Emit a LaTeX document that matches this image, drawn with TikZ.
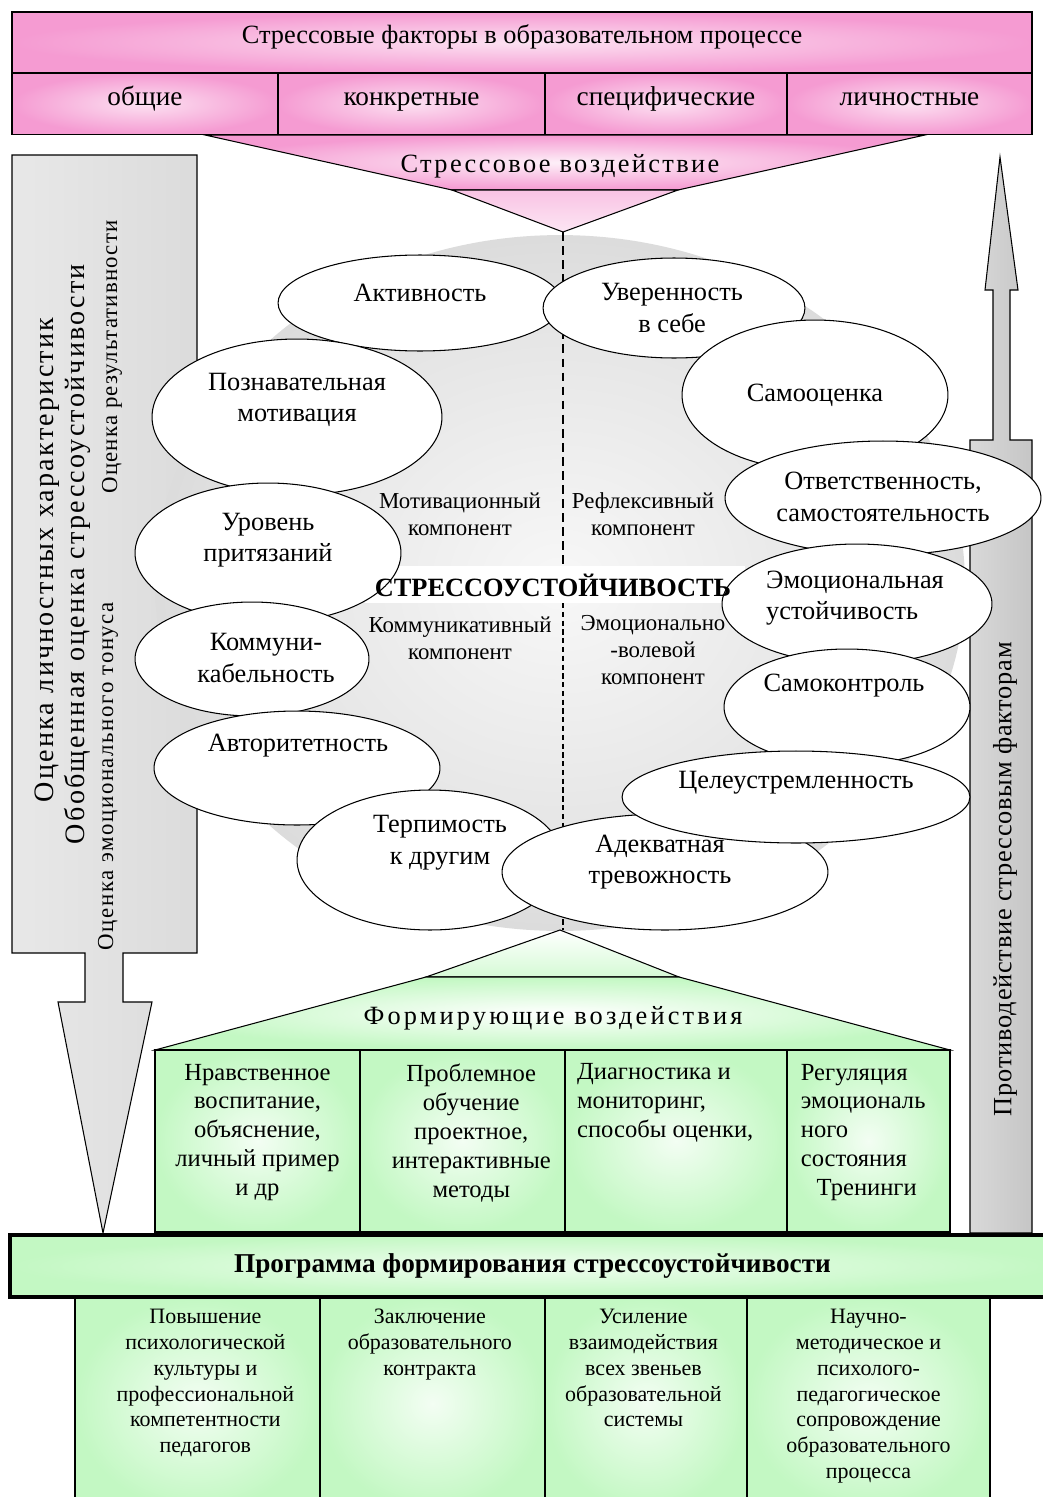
\documentclass[tikz,border=0pt]{standalone}
\usepackage{fontspec}
\setmainfont{Liberation Serif}
\usepackage{tikz}
\usetikzlibrary{shapes.geometric}
\usetikzlibrary{positioning}
\usetikzlibrary{shadings}

\definecolor{rose}{RGB}{245,155,210}
\definecolor{mint}{RGB}{195,248,195}
\pgfdeclareradialshading{blob}{\pgfpoint{0bp}{0bp}}{color(0bp)=(gray!6); color(18bp)=(gray!20); color(50bp)=(gray!55)}

\tikzset{
    cell/.style={draw, line width=0.6pt, inner sep=0pt},
    pinkcell/.style={cell, inner color=rose!30!white, outer color=rose, minimum height=61*0.02cm, text height=8pt, text depth=6.4pt, font=\fontsize{15.5}{18}\selectfont},
    greencell/.style={cell, inner color=mint!20!white, outer color=mint},
    bub/.style 2 args={ellipse, draw, line width=0.6pt, fill=white, inner sep=0pt, minimum width=#1*0.04cm, minimum height=#2*0.04cm},
    txt/.style={font=\fontsize{15}{18}\selectfont, align=center, inner sep=0pt},
    comp/.style={font=\fontsize{13}{15.5}\selectfont, align=center, inner sep=0pt},
    gtxt/.style={font=\fontsize{14}{16.5}\selectfont, inner sep=0pt},
    btxt/.style={font=\fontsize{12.5}{14.7}\selectfont, align=center, inner sep=0pt},
}

\begin{document}
\begin{tikzpicture}[x=0.02cm, y=-0.02cm]
    \useasboundingbox (0,0) rectangle (1043,1497);
    \fill[white] (0,0) rectangle (1043,1497);

    % side columns
    \shadedraw[line width=0.6pt, left color=gray!18, middle color=white, right color=gray!28] (12,155) -- (197,155) -- (197,953) -- (123,953) -- (123,1002) -- (152,1002) -- (103,1233) -- (58,1002) -- (85,1002) -- (85,953) -- (12,953) -- cycle;
    \shadedraw[line width=0.6pt, left color=gray!30, middle color=white, right color=gray!45] (970,1233) -- (970,440) -- (993,440) -- (993,290) -- (985,290) -- (1000,157) -- (1018,290) -- (1010,290) -- (1010,440) -- (1032,440) -- (1032,1233) -- cycle;
    \node[font=\fontsize{16}{19}\selectfont\addfontfeature{LetterSpace=8}, rotate=90, inner sep=0pt] (eval1) at (47,560) {Оценка личностных характеристик};
    \node[font=\fontsize{16}{19}\selectfont\addfontfeature{LetterSpace=8}, rotate=90, inner sep=0pt] (eval2) at (77,554) {Обобщенная оценка стрессоустойчивости};
    \node[font=\fontsize{13}{15}\selectfont\addfontfeature{LetterSpace=5}, rotate=90, inner sep=0pt] (eval3) at (112,357) {Оценка результативности};
    \node[font=\fontsize{13}{15}\selectfont\addfontfeature{LetterSpace=7}, rotate=90, inner sep=0pt] (eval4) at (108,776) {Оценка эмоционального тонуса};
    \node[font=\fontsize{15}{18}\selectfont\addfontfeature{LetterSpace=3}, rotate=90, inner sep=0pt] (counter) at (1005,879) {Противодействие стрессовым факторам};

    % stress factors
    \node[pinkcell, minimum width=1020*0.02cm, font=\fontsize{15}{18}\selectfont] (head) at (522,42.5) {Стрессовые факторы в образовательном процессе};
    \foreach \xa/\xb/\lbl [count=\n] in {12/278/общие, 278/545/конкретные, 545/787/специфические, 787/1032/личностные}
        \node[pinkcell, minimum width={(\xb-\xa)*0.02cm}] (kind\n) at ({(\xa+\xb)/2},104) {\lbl};
    \shadedraw[line width=0.6pt, inner color=rose!15!white, outer color=rose] (205,135) -- (925,135) -- (678,190) -- (452,190) -- cycle;
    \shadedraw[line width=0.6pt, top color=rose!60!white, bottom color=rose!25!white] (452,190) -- (678,190) -- (563,232) -- cycle;
    \node[font=\fontsize{15}{18}\selectfont\addfontfeature{LetterSpace=9}, inner sep=0pt] (impact) at (560,166) {Стрессовое воздействие};

    % core
    \shade[shading=blob] (560,583) ellipse [x radius=8.1cm, y radius=6.96cm];
    \draw[line width=1.4pt, dash pattern=on 5pt off 3pt] (563,232) -- (563,566);
    \draw[line width=0.6pt, dash pattern=on 3pt off 2pt] (563,603) -- (563,930);
    \fill[white] (365,566) rectangle (745,603);

    % shaping
    \shadedraw[line width=0.6pt, top color=white, bottom color=mint!70] (560,930) -- (679,977) -- (426,977) -- cycle;
    \shadedraw[line width=0.6pt, inner color=white, outer color=mint] (426,977) -- (679,977) -- (950,1050) -- (155,1050) -- cycle;
    \node[font=\fontsize{15}{18}\selectfont\addfontfeature{LetterSpace=12}, inner sep=0pt] (shape) at (553,1018) {Формирующие воздействия};
    \foreach \xa/\xb [count=\n] in {155/360, 360/565, 565/787, 787/950}
        \node[greencell, minimum width={(\xb-\xa)*0.02cm}, minimum height=182*0.02cm] (g\n) at ({(\xa+\xb)/2},1141) {};
    \node[gtxt, align=center, below=8pt of g1.north] (g1t) {Нравственное\\воспитание,\\объяснение,\\личный пример\\и др};
    \node[gtxt, align=center, below=8pt of g2.north, xshift=5pt] (g2t) {Проблемное\\обучение\\проектное,\\интерактивные\\методы};
    \node[gtxt, align=left, below right=8pt and 7pt of g3.north west] (g3t) {Диагностика и\\мониторинг,\\способы оценки,};
    \node[gtxt, align=left, below right=8pt and 8pt of g4.north west] (g4t) {Регуляция\\эмоциональ\\ного\\состояния\\\hspace*{9pt}Тренинги};

    % qualities
    \node[bub={142}{48}, label={[txt, shift={(0,-10)}]center:Активность}] (act) at (420,303) {};
    \node[bub={131}{50}, label={[txt, shift={(-2,0)}]center:{Уверенность\\в себе}}] (conf) at (674,308) {};
    \node[bub={145}{78}, label={[txt, shift={(0,-17)}]center:{Познавательная\\мотивация}}] (cog) at (297,417) {};
    \node[bub={133}{75}, label={[txt]center:Самооценка}] (selfe) at (815,395) {};
    \node[bub={133}{70}, label={[txt, shift={(0,-13)}]center:{Уровень\\притязаний}}] (aspir) at (268,553) {};
    \node[bub={158}{57}, label={[txt, shift={(0,-1)}]center:{Ответственность,\\самостоятельность}}] (resp) at (883,498) {};
    \node[bub={135}{60}, label={[txt, align=left, shift={(-2,-6)}]center:{Эмоциональная\\устойчивость}}] (emo) at (857,604) {};
    \node[bub={117}{57}, label={[txt, shift={(14,-1)}]center:{Коммуни-\\кабельность}}] (comm) at (252,659) {};
    \node[bub={123}{58}, label={[txt, shift={(-3,-21)}]center:Самоконтроль}] (ctrl) at (847,707) {};
    \node[bub={143}{57}, label={[txt, shift={(1,-22)}]center:Авторитетность}] (auth) at (297,768) {};
    \node[bub={133}{70}, label={[txt, shift={(10,-17)}]center:{Терпимость\\к другим}}] (tol) at (430,860) {};
    \node[bub={163}{58}] (adeq) at (665,872) {};
    \node[bub={174}{46}, label={[txt, shift={(0,-14)}]center:Целеустремленность}] (goal) at (796,797) {};
    \node[txt, shift={(-5,-10)}] (adeqt) at (adeq.center) {Адекватная\\тревожность};

    \node[comp] (motc) at (460,514) {Мотивационный\\компонент};
    \node[comp] (refc) at (643,514) {Рефлексивный\\компонент};
    \node[comp] (comc) at (460,638) {Коммуникативный\\компонент};
    \node[comp] (emoc) at (653,650) {Эмоционально\\-волевой\\компонент};
    \node[font=\bfseries\fontsize{15}{18}\selectfont, inner sep=0pt] (core) at (553,585) {СТРЕССОУСТОЙЧИВОСТЬ};

    % programme
    \foreach \xa/\xb [count=\n] in {75/320, 320/545, 545/747, 747/990}
        \node[greencell, minimum width={(\xb-\xa)*0.02cm}, minimum height=213*0.02cm] (p\n) at ({(\xa+\xb)/2},1403.5) {};
    \node[btxt, below=7pt of p1.north, xshift=4.5pt] (p1t) {Повышение\\психологической\\культуры и\\профессиональной\\компетентности\\педагогов};
    \node[btxt, below=7pt of p2.north, xshift=-1.5pt] (p2t) {Заключение\\образовательного\\контракта};
    \node[btxt, below=7pt of p3.north, xshift=-1.5pt] (p3t) {Усиление\\взаимодействия\\всех звеньев\\образовательной\\системы};
    \node[btxt, below=7pt of p4.north] (p4t) {Научно-\\методическое и\\психолого-\\педагогическое\\сопровождение\\образовательного\\процесса};
    \node[cell, line width=2.2pt, inner color=mint!25!white, outer color=mint, minimum width=1045*0.02cm, minimum height=62*0.02cm, font=\bfseries\fontsize{15.5}{19}\selectfont] (prog) at (532.5,1266) {Программа формирования стрессоустойчивости};
\end{tikzpicture}
\end{document}
